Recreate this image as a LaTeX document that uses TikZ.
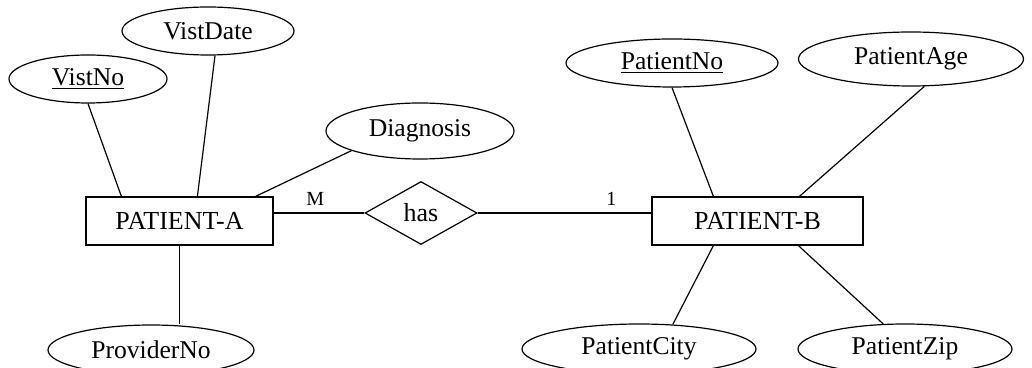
\documentclass[tikz,border=0pt]{standalone}
\usepackage{fontspec}
\setmainfont{Liberation Serif}
\usetikzlibrary{shapes.geometric}

\begin{document}
\begin{tikzpicture}[
    x=0.5pt, y=-0.5pt, line width=0.6pt,
    entity/.style={draw, minimum height=24pt, inner sep=0pt, font=\fontsize{13}{15}\selectfont},
    attr/.style={draw, ellipse, inner sep=0pt, font=\fontsize{12.8}{15}\selectfont},
    rel/.style={draw, diamond, minimum width=56pt, minimum height=31.5pt, inner sep=0pt, font=\fontsize{13}{15}\selectfont},
    card/.style={above, font=\fontsize{10}{12}\selectfont}
]
    \useasboundingbox (0,0) rectangle (1032,368);
    \clip (0,0) rectangle (1032,368);

    % Entities and relationship
    \node[entity, minimum width=93.5pt] (pa) at (179.5,221) {PATIENT-A};
    \node[entity, minimum width=105.5pt] (pb) at (757.5,221) {PATIENT-B};
    \node[rel] (has) at (421,213) {has};
    \draw (has.west -| pa.east) -- node[card, pos=0.46] {M} (has.west);
    \draw (has.east) -- node[card, pos=0.77] {1} (has.east -| pb.west);

    % Attributes of PATIENT-A
    \node[attr, minimum width=79pt, minimum height=24pt] (vistno) at (88,79) {\underline{VistNo}};
    \node[attr, minimum width=86pt, minimum height=24pt] (vistdate) at (208,31) {VistDate};
    \node[attr, minimum width=94pt, minimum height=28pt] (diag) at (420,131) {Diagnosis};
    \node[attr, minimum width=103pt, minimum height=25pt] (prov) at (151,350) {ProviderNo};
    \draw (vistno.south) -- ([xshift=18pt]pa.north west);
    \draw (vistdate.-74) -- ([xshift=56pt]pa.north west);
    \draw (diag.196) -- ([xshift=-9pt]pa.north east);
    \draw (pa.south) -- (pa.south |- prov.north);

    % Attributes of PATIENT-B
    \node[attr, minimum width=106pt, minimum height=24pt] (patno) at (672,63) {\underline{PatientNo}};
    \node[attr, minimum width=112.5pt, minimum height=27pt] (patage) at (911,59) {PatientAge};
    \node[attr, minimum width=117pt, minimum height=25pt] (patcity) at (639,349) {PatientCity};
    \node[attr, minimum width=107pt, minimum height=25pt] (patzip) at (905,349) {PatientZip};
    \draw (patno.south) -- ([xshift=31pt]pb.north west);
    \draw (patage.-64) -- ([xshift=74pt]pb.north west);
    \draw (patcity.36) -- ([xshift=31pt]pb.south west);
    \draw (patzip.131) -- ([xshift=73.5pt]pb.south west);
\end{tikzpicture}
\end{document}
